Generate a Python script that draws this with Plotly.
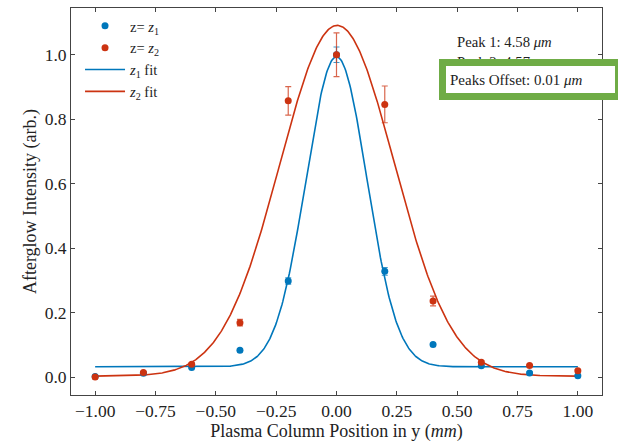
import numpy as np
import plotly.graph_objects as go

# Measured afterglow intensity across the plasma column
y_pos = [-1.0, -0.8, -0.6, -0.4, -0.2, 0.0, 0.2, 0.4, 0.6, 0.8, 1.0]
z1_int = [0.002, 0.012, 0.030, 0.083, 0.298, 1.000, 0.328, 0.101, 0.035, 0.013, 0.004]
z1_err = [0.002, 0.003, 0.003, 0.004, 0.010, 0.024, 0.012, 0.004, 0.003, 0.003, 0.002]
z2_int = [0.000, 0.014, 0.040, 0.169, 0.857, 1.000, 0.846, 0.236, 0.046, 0.036, 0.020]
z2_err = [0.002, 0.003, 0.004, 0.010, 0.044, 0.068, 0.057, 0.015, 0.004, 0.003, 0.003]

# Gaussian fit parameters: amplitude, centre, sigma, offset
fit1 = dict(amp=0.962, mu=0.0, sigma=0.126, off=0.032)
fit2 = dict(amp=1.088, mu=0.003, sigma=0.237, off=0.003)

x_ticks = [-1.0, -0.75, -0.5, -0.25, 0.0, 0.25, 0.5, 0.75, 1.0]
y_ticks = [0.0, 0.2, 0.4, 0.6, 0.8, 1.0]

BLUE = "#0077BB"
RED = "#CC3311"
FONT = "Liberation Serif"


def gauss(x, amp, mu, sigma, off):
    return amp * np.exp(-((x - mu) ** 2) / (2 * sigma ** 2)) + off


xs = np.linspace(-1.0, 1.0, 600)

fig = go.Figure()
fig.add_trace(go.Scatter(x=xs, y=gauss(xs, **fit1), mode="lines",
                         line=dict(color=BLUE, width=1.6),
                         name="<i>z</i><sub>1</sub> fit", legendrank=3))
fig.add_trace(go.Scatter(x=xs, y=gauss(xs, **fit2), mode="lines",
                         line=dict(color=RED, width=1.6),
                         name="<i>z</i><sub>2</sub> fit", legendrank=4))
fig.add_trace(go.Scatter(x=y_pos, y=z1_int, mode="markers",
                         marker=dict(color=BLUE, size=7),
                         error_y=dict(type="data", array=z1_err, color="rgba(0,119,187,0.75)",
                                      thickness=1.2, width=3),
                         name="z= <i>z</i><sub>1</sub>", legendrank=1))
fig.add_trace(go.Scatter(x=y_pos, y=z2_int, mode="markers",
                         marker=dict(color=RED, size=7),
                         error_y=dict(type="data", array=z2_err, color="rgba(204,51,17,0.75)",
                                      thickness=1.2, width=3),
                         name="z= <i>z</i><sub>2</sub>", legendrank=2))

axis_common = dict(
    showgrid=False, zeroline=False, showline=True, linecolor="#444", linewidth=1,
    mirror="ticks", ticks="inside", ticklen=4, tickcolor="#444",
    tickfont=dict(family=FONT, size=17.5, color="#222"),
)

fig.update_xaxes(range=[-1.1, 1.1], tickvals=x_ticks, tickformat=".2f",
                 title=dict(text="Plasma Column Position in y (<i>mm</i>)",
                            font=dict(family=FONT, size=18, color="#222"), standoff=1),
                 **axis_common)
fig.update_yaxes(range=[-0.0555, 1.145], tickvals=y_ticks, tickformat=".1f",
                 title=dict(text="Afterglow Intensity (arb.)",
                            font=dict(family=FONT, size=18, color="#222"), standoff=3),
                 **axis_common)

fig.add_annotation(xref="paper", yref="paper", x=0.724, y=0.911, xanchor="left",
                   yanchor="middle", showarrow=False, text="Peak 1: 4.58 <i>μm</i>",
                   font=dict(family=FONT, size=14.7, color="#222"))
fig.add_annotation(xref="paper", yref="paper", x=0.724, y=0.861, xanchor="left",
                   yanchor="middle", showarrow=False, text="Peak 2: 4.57 <i>μm</i>",
                   font=dict(family=FONT, size=14.7, color="#222"))
fig.add_annotation(xref="paper", yref="paper", x=0.693, y=0.8165, xanchor="left",
                   yanchor="middle", showarrow=False, text="Peaks Offset: 0.01 <i>μm</i>",
                   align="left", width=161, height=19, borderpad=4,
                   bgcolor="white", bordercolor="#6FAC46", borderwidth=7,
                   font=dict(family=FONT, size=15, color="#222"))

fig.update_layout(
    width=618, height=442,
    margin=dict(l=71, r=16, t=7, b=40),
    paper_bgcolor="white", plot_bgcolor="white",
    font=dict(family=FONT, color="#222"),
    showlegend=True,
    legend=dict(x=0.017, y=0.995, xanchor="left", yanchor="top",
                bgcolor="rgba(0,0,0,0)", font=dict(family=FONT, size=14.5),
                itemwidth=40, tracegroupgap=0),
)

fig.write_html("out.html")
